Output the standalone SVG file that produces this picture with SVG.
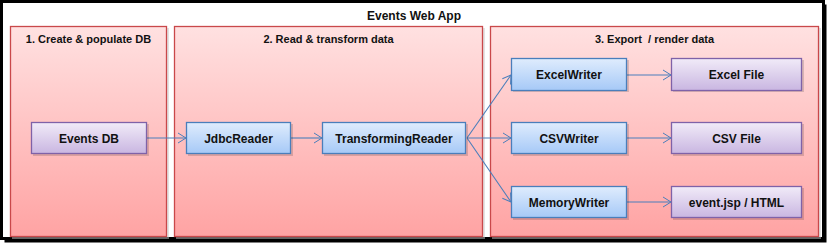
<svg xmlns="http://www.w3.org/2000/svg" width="829" height="245" viewBox="0 0 829 245">
<defs>
<linearGradient id="gPanel" x1="0" y1="0" x2="0" y2="1">
<stop offset="0" stop-color="#ffe1e1"/>
<stop offset="1" stop-color="#ffa3a3"/>
</linearGradient>
<linearGradient id="gBlue" x1="0" y1="0" x2="0" y2="1">
<stop offset="0" stop-color="#dfecfd"/>
<stop offset="1" stop-color="#a6c9f7"/>
</linearGradient>
<linearGradient id="gPurple" x1="0" y1="0" x2="0" y2="1">
<stop offset="0" stop-color="#f1ebf8"/>
<stop offset="1" stop-color="#c9b6e1"/>
</linearGradient>
<marker id="arr" markerWidth="10" markerHeight="12" refX="9" refY="6" orient="auto" markerUnits="userSpaceOnUse">
<path d="M1,1 L9,6 L1,11" fill="none" stroke="#4a7ebb" stroke-width="1"/>
</marker>
</defs>
<style>
.panel{fill:url(#gPanel);stroke:#c9484a;stroke-width:1.3}
.pshadow{fill:#c8c8c8;opacity:0.5}
.blue{fill:url(#gBlue);stroke:#4a7ebb;stroke-width:1.3}
.purple{fill:url(#gPurple);stroke:#7f62a8;stroke-width:1.3}
.nshadow{fill:#000;opacity:0.15}
.t{font-family:"Liberation Sans",Arial,sans-serif;font-weight:bold;text-anchor:middle;fill:#111}
.nt{font-size:12px}
.pt{font-size:11px}
.conn{fill:none;stroke:#4a7ebb;stroke-width:1.1;marker-end:url(#arr)}
</style>
<rect x="0" y="0" width="829" height="245" fill="#ffffff"/>
<g id="frame">
<rect x="4.5" y="4.5" width="822" height="238" fill="#000"/>
<rect x="1.5" y="1.5" width="822" height="237" fill="#fff" stroke="#000" stroke-width="3"/>
<text class="t" x="414" y="20" font-size="12">Events Web App</text>
</g>
<g id="panel1">
<rect class="pshadow" x="12" y="28" width="157" height="211"/>
<rect class="panel" x="10.5" y="26.5" width="156" height="210"/>
<text class="t pt" x="88.5" y="43">1. Create &amp; populate DB</text>
</g>
<g id="panel2">
<rect class="pshadow" x="176" y="28" width="309" height="211"/>
<rect class="panel" x="174.5" y="26.5" width="308" height="210"/>
<text class="t pt" x="328.5" y="43">2. Read &amp; transform data</text>
</g>
<g id="panel3">
<rect class="pshadow" x="492" y="28" width="329" height="211"/>
<rect class="panel" x="490.5" y="26.5" width="328" height="210"/>
<text class="t pt" x="654.5" y="43">3. Export&#160; / render data</text>
</g>
<g id="connectors">
<line class="conn" x1="147" y1="138" x2="186" y2="138"/>
<line class="conn" x1="291" y1="138" x2="322" y2="138"/>
<line class="conn" x1="467" y1="138" x2="511" y2="75"/>
<line class="conn" x1="467" y1="138" x2="511" y2="138"/>
<line class="conn" x1="467" y1="138" x2="511" y2="202"/>
<line class="conn" x1="627" y1="75" x2="671" y2="75"/>
<line class="conn" x1="627" y1="138" x2="671" y2="138"/>
<line class="conn" x1="627" y1="202" x2="671" y2="202"/>
</g>
<g id="eventsdb">
<rect class="nshadow" x="33" y="124" width="116" height="32"/>
<rect class="purple" x="31.5" y="122.5" width="115" height="31"/>
<text class="t nt" x="89" y="142.5">Events DB</text>
</g>
<g id="jdbcreader">
<rect class="nshadow" x="188" y="124" width="105" height="32"/>
<rect class="blue" x="186.5" y="122.5" width="104" height="31"/>
<text class="t nt" x="238.5" y="142.5">JdbcReader</text>
</g>
<g id="transformingreader">
<rect class="nshadow" x="324" y="124" width="144" height="32"/>
<rect class="blue" x="322.5" y="122.5" width="143" height="31"/>
<text class="t nt" x="394" y="142.5">TransformingReader</text>
</g>
<g id="excelwriter">
<rect class="nshadow" x="513" y="60" width="116" height="32"/>
<rect class="blue" x="511.5" y="58.5" width="115" height="32"/>
<text class="t nt" x="569" y="79">ExcelWriter</text>
</g>
<g id="csvwriter">
<rect class="nshadow" x="513" y="124" width="116" height="32"/>
<rect class="blue" x="511.5" y="122.5" width="115" height="31"/>
<text class="t nt" x="569" y="142.5">CSVWriter</text>
</g>
<g id="memorywriter">
<rect class="nshadow" x="513" y="188" width="116" height="32"/>
<rect class="blue" x="511.5" y="186.5" width="115" height="31"/>
<text class="t nt" x="569" y="206.5">MemoryWriter</text>
</g>
<g id="excelfile">
<rect class="nshadow" x="673" y="60" width="131" height="32"/>
<rect class="purple" x="671.5" y="58.5" width="130" height="32"/>
<text class="t nt" x="736.5" y="79">Excel File</text>
</g>
<g id="csvfile">
<rect class="nshadow" x="673" y="124" width="131" height="32"/>
<rect class="purple" x="671.5" y="122.5" width="130" height="31"/>
<text class="t nt" x="736.5" y="142.5">CSV File</text>
</g>
<g id="eventjsp">
<rect class="nshadow" x="673" y="188" width="131" height="32"/>
<rect class="purple" x="671.5" y="186.5" width="130" height="31"/>
<text class="t nt" x="736.5" y="206.5">event.jsp / HTML</text>
</g>
</svg>
